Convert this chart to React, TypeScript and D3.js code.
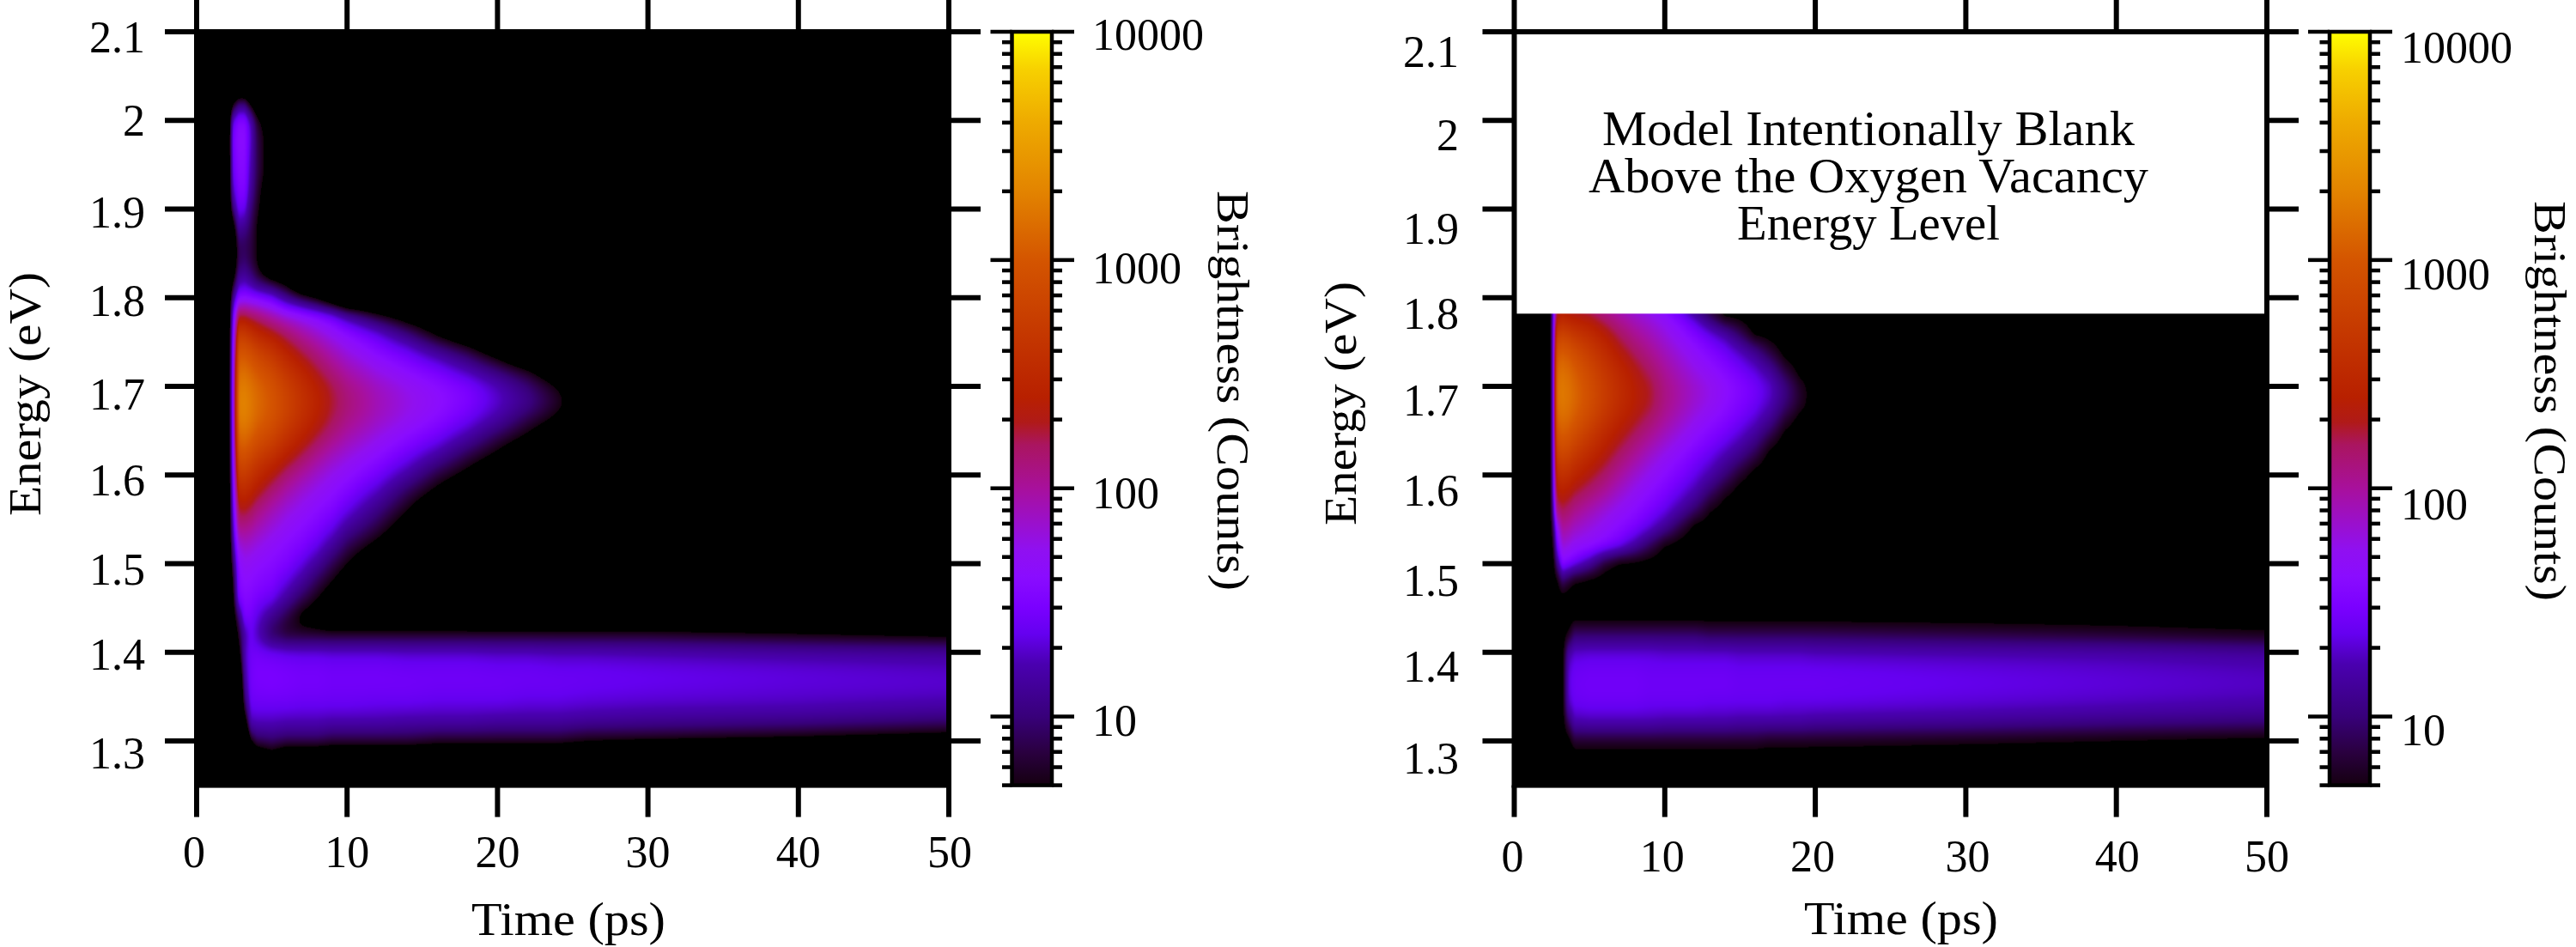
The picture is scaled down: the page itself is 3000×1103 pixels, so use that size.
import { useEffect, useRef } from 'react'
import * as d3 from 'd3'

const timeTicks = [0, 10, 20, 30, 40, 50]
const energyTicks = [2.1, 2, 1.9, 1.8, 1.7, 1.6, 1.5, 1.4, 1.3]
const countTicks = [10000, 1000, 100, 10]
const countMinorTicks = [
  5, 6, 7, 8, 9, 20, 30, 40, 50, 60, 70, 80, 90, 200, 300, 400, 500, 600, 700, 800, 900,
  2000, 3000, 4000, 5000, 6000, 7000, 8000, 9000,
]

// colour bar
const colorCounts = [5, 7, 10, 17, 23, 30, 41, 54, 100, 155, 195, 250, 457, 1000, 2040, 4000, 6800, 10000]
const colorValues = [
  '#150010', '#2a0040', '#38007a', '#4a00b0', '#6500f0', '#7a00ff', '#8a0cff', '#9010f0', '#a8109c',
  '#aa1560', '#b01a18', '#b82000', '#c43600', '#d45500', '#e38500', '#eeaa00', '#f7d000', '#ffff00',
]

// measured data: counts per energy row and time column, rows stop at their last cell above the scale
const measuredTimes = [2, 2.4, 2.8, 3.2, 3.6, 4, 5, 6, 7, 8, 9, 10, 12, 14, 16, 18, 20, 22, 24, 26, 30, 40, 50]
const measuredEnergies = [
  2.06, 2.04, 2.02, 2, 1.98, 1.96, 1.94, 1.92, 1.9, 1.88, 1.86, 1.84, 1.82, 1.8, 1.78, 1.76, 1.74, 1.72, 1.7, 1.68,
  1.66, 1.64, 1.62, 1.6, 1.58, 1.56, 1.54, 1.52, 1.5, 1.48, 1.46, 1.44, 1.42, 1.4, 1.38, 1.36, 1.34, 1.32, 1.3, 1.28, 1.26,
]
const measuredCounts = [
  [],
  [],
  [1, 4, 9, 9, 4, 2],
  [1, 22, 36, 36, 18, 7, 2],
  [1, 28, 40, 40, 20, 8, 3],
  [1, 26, 38, 38, 18, 8, 3],
  [1, 24, 36, 36, 16, 8, 3],
  [1, 18, 32, 32, 14, 7, 2],
  [1, 10, 26, 24, 10, 6, 2],
  [1, 3, 14, 12, 8, 5],
  [1, 2, 8, 8, 7, 5],
  [1, 2, 8, 9, 7, 5],
  [1, 4, 14, 16, 12, 8, 5, 3],
  [1, 12, 35, 38, 36, 34, 25, 12, 7, 4, 2],
  [1, 22, 180, 180, 150, 130, 85, 60, 46, 36, 26, 15, 6, 3, 2],
  [1, 28, 500, 480, 380, 300, 210, 140, 95, 68, 50, 38, 22, 10, 4, 2],
  [1, 32, 900, 900, 780, 620, 420, 250, 165, 115, 80, 58, 36, 24, 13, 7, 3],
  [1, 36, 1300, 1350, 1150, 950, 660, 410, 265, 175, 120, 86, 54, 38, 27, 16, 9, 5, 2],
  [1, 40, 1700, 1800, 1550, 1300, 900, 570, 370, 245, 170, 120, 76, 54, 41, 30, 18, 10, 5, 2],
  [1, 40, 1900, 2000, 1700, 1400, 980, 640, 410, 275, 185, 135, 85, 60, 45, 32, 20, 12, 6, 3],
  [1, 38, 1700, 1800, 1550, 1250, 880, 550, 355, 235, 160, 115, 74, 52, 37, 24, 14, 7, 4, 2],
  [1, 35, 1200, 1300, 1100, 880, 620, 385, 250, 165, 115, 85, 55, 37, 25, 14, 7, 4, 2],
  [1, 32, 800, 850, 700, 560, 380, 235, 155, 105, 76, 60, 40, 25, 14, 7, 4, 2],
  [1, 28, 500, 520, 430, 340, 215, 135, 95, 70, 54, 44, 28, 15, 7, 4, 2],
  [1, 24, 300, 320, 270, 210, 130, 88, 65, 52, 42, 33, 18, 8, 4, 2],
  [1, 20, 180, 190, 160, 125, 85, 62, 50, 40, 33, 23, 11, 5, 2],
  [1, 16, 110, 110, 100, 85, 62, 48, 39, 32, 23, 14, 7, 3],
  [1, 12, 60, 70, 65, 58, 46, 38, 32, 23, 14, 8, 4, 2],
  [1, 8, 40, 50, 48, 44, 38, 32, 22, 14, 8, 5, 2],
  [1, 5, 35, 42, 40, 37, 32, 22, 14, 8, 5, 3],
  [1, 4, 30, 36, 34, 30, 24, 14, 8, 5, 3, 2],
  [1, 3, 10, 30, 28, 22, 12, 7, 4, 3, 2, 2, 2, 2, 2, 2, 2, 2, 2, 2, 2, 2, 2],
  [1, 2, 6, 15, 24, 18, 8, 6, 6, 6, 6, 6, 6, 6, 6, 6, 6, 6, 6, 6, 6, 5, 4],
  [1, 1, 4, 18, 26, 27, 25, 23, 22, 22, 21, 21, 21, 20, 20, 20, 19, 19, 18, 18, 17, 15, 14],
  [1, 1, 2, 16, 27, 30, 30, 29, 28, 28, 27, 27, 27, 26, 26, 26, 25, 25, 24, 24, 23, 21, 19],
  [1, 1, 1, 13, 27, 29, 30, 29, 28, 28, 27, 27, 27, 27, 26, 26, 26, 25, 25, 24, 23, 21, 20],
  [1, 1, 1, 8, 24, 25, 25, 25, 24, 24, 24, 24, 23, 23, 22, 22, 22, 21, 21, 20, 19, 18, 16],
  [1, 1, 1, 3, 17, 18, 18, 17, 17, 17, 16, 16, 16, 15, 15, 15, 14, 14, 14, 13, 12, 11, 9],
  [1, 1, 1, 1, 5, 8, 9, 8, 8, 8, 7, 7, 7, 7, 6, 6, 6, 6, 6, 5, 5, 4, 3],
  [1, 1, 1, 1, 1, 2, 3, 2, 2, 2, 2, 2, 2, 2, 2, 2, 2, 2, 2, 2, 1, 1, 1],
  [],
]

// model panel, same idea, 4 is just under the scale so the edges stay crisp
const modelTimes = [2.4, 2.6, 2.8, 3.2, 3.6, 4, 5, 6, 7, 8, 9, 10, 11, 12, 13, 14, 15, 16, 17, 18, 19, 20, 30, 40, 50]
const modelEnergies = [
  1.8, 1.78, 1.76, 1.74, 1.72, 1.7, 1.68, 1.66, 1.64, 1.62, 1.6, 1.58, 1.56, 1.54, 1.52, 1.5, 1.48, 1.46, 1.44, 1.42,
  1.4, 1.38, 1.36, 1.34, 1.32, 1.3, 1.28,
]
const modelCounts = [
  [4, 22, 120, 150, 130, 120, 100, 75, 55, 45, 36, 22, 12, 5],
  [4, 26, 200, 260, 230, 210, 180, 130, 95, 72, 58, 45, 30, 17, 8],
  [4, 30, 500, 600, 540, 450, 340, 230, 150, 105, 80, 60, 44, 32, 22, 15, 8],
  [4, 30, 900, 1050, 950, 780, 520, 340, 215, 150, 108, 78, 58, 44, 34, 26, 18, 12, 6.5],
  [4, 30, 1250, 1450, 1300, 1080, 700, 450, 300, 205, 145, 100, 74, 56, 44, 35, 27, 20, 13, 6.5],
  [4, 30, 1500, 1700, 1550, 1280, 830, 530, 350, 245, 185, 120, 90, 70, 56, 44, 35, 28, 20, 11, 6],
  [4, 30, 1450, 1700, 1550, 1300, 840, 530, 350, 245, 185, 120, 90, 68, 54, 42, 33, 26, 18, 10, 6],
  [4, 30, 1150, 1350, 1250, 1030, 660, 410, 270, 195, 140, 98, 72, 54, 42, 34, 26, 19, 12, 6],
  [4, 30, 800, 1000, 900, 720, 460, 290, 200, 140, 100, 72, 54, 41, 32, 25, 18, 12, 6.5],
  [4, 30, 520, 640, 580, 460, 310, 210, 140, 100, 70, 52, 40, 30, 23, 16, 11, 7],
  [4, 26, 330, 400, 360, 290, 205, 145, 100, 70, 52, 40, 31, 23, 16, 10, 6],
  [4, 22, 210, 250, 220, 180, 135, 100, 70, 52, 40, 31, 23, 16, 9, 5.5],
  [4, 15, 125, 160, 140, 115, 85, 64, 50, 40, 31, 23, 15, 9, 5],
  [4, 8, 40, 100, 90, 75, 60, 48, 38, 30, 21, 13, 7],
  [4, 5, 25, 65, 58, 50, 44, 35, 26, 15, 8, 4.5],
  [4, 4, 10, 38, 32, 26, 14, 6],
  [4, 4, 4, 8, 6, 4.5],
  [],
  [],
  [4, 4, 4, 4, 5, 9, 9, 9, 9, 9, 9, 9, 9, 9, 8, 8, 8, 8, 8, 8, 8, 8, 7, 6, 5],
  [4, 4, 4, 4, 15, 20, 21, 21, 21, 21, 21, 20, 20, 20, 20, 20, 19, 19, 19, 19, 19, 18, 17, 16, 14],
  [4, 4, 4, 4, 20, 25, 26, 26, 26, 26, 25, 25, 25, 25, 25, 25, 24, 24, 24, 24, 24, 24, 22, 20, 18],
  [4, 4, 4, 4, 21, 26, 27, 27, 27, 27, 26, 26, 26, 26, 26, 26, 25, 25, 25, 25, 25, 25, 23, 21, 19],
  [4, 4, 4, 4, 18, 24, 25, 25, 25, 25, 24, 24, 24, 24, 23, 23, 23, 23, 23, 22, 22, 22, 20, 18, 16],
  [4, 4, 4, 4, 8, 16, 17, 17, 17, 17, 17, 16, 16, 16, 16, 16, 15, 15, 15, 15, 15, 14, 13, 11, 10],
  [4, 4, 4, 4, 4, 6, 6, 6, 6, 6, 6, 6, 6, 6, 6, 6, 6, 6, 5.5, 5.5, 5.5, 5.5, 5, 4.5, 4],
  [],
]

const modelBlankAbove = 1.782
const blankNote = ['Model Intentionally Blank', 'Above the Oxygen Vacancy', 'Energy Level']

const FONT = '"Liberation Serif", serif'
const WIDTH = 3000
const HEIGHT = 1103
const TOP = 37
const BOTTOM = 914.6
const TICK = 37
const LABEL_SIZE = 52

const yEnergy = d3.scaleLinear().domain([1.25, 2.1]).range([BOTTOM, TOP])
const yCounts = d3.scaleLog().domain([5, 10000]).range([BOTTOM, TOP])
const colorScale = d3
  .scaleLog<string>()
  .domain(colorCounts)
  .range(colorValues)
  .interpolate(d3.interpolateRgb)
  .clamp(true)

// heat map goes into a canvas, the cells get blended in log counts like imshow does
function heatmapUrl(
  times: number[],
  energies: number[],
  counts: number[][],
  belowScale: number,
  x: d3.ScaleLinear<number, number>,
  w: number,
  h: number,
) {
  const canvas = document.createElement('canvas')
  canvas.width = w
  canvas.height = h
  const ctx = canvas.getContext('2d')!
  const img = ctx.createImageData(w, h)
  const [x0] = x.range()
  const negEnergies = energies.map((e) => -e)
  const logCell = (r: number, c: number) => Math.log10(counts[r][c] ?? belowScale)
  const field = new Float64Array(w * h)

  for (let py = 0; py < h; py++) {
    const e = yEnergy.invert(TOP + py + 0.5)
    const r1 = Math.min(Math.max(d3.bisectRight(negEnergies, -e), 1), energies.length - 1)
    const r0 = r1 - 1
    const fr = Math.min(Math.max((energies[r0] - e) / (energies[r0] - energies[r1]), 0), 1)
    for (let px = 0; px < w; px++) {
      const t = x.invert(x0 + px + 0.5)
      const c1 = Math.min(Math.max(d3.bisectRight(times, t), 1), times.length - 1)
      const c0 = c1 - 1
      const fc = Math.min(Math.max((t - times[c0]) / (times[c1] - times[c0]), 0), 1)
      const top = logCell(r0, c0) * (1 - fc) + logCell(r0, c1) * fc
      const bot = logCell(r1, c0) * (1 - fc) + logCell(r1, c1) * fc
      field[py * w + px] = top * (1 - fr) + bot * fr
    }
  }

  // soften the grid steps, mostly along energy so the steep edge in time survives
  d3.blur2({ data: field, width: w, height: h }, 1, 7)

  for (let i = 0; i < field.length; i++) {
    const v = Math.pow(10, field[i])
    const col = v < 5 ? { r: 0, g: 0, b: 0 } : d3.rgb(colorScale(v))
    img.data[i * 4] = col.r
    img.data[i * 4 + 1] = col.g
    img.data[i * 4 + 2] = col.b
    img.data[i * 4 + 3] = 255
  }
  ctx.putImageData(img, 0, 0)
  return canvas.toDataURL('image/png')
}

function styleText(sel: d3.Selection<any, any, any, any>, size = LABEL_SIZE) {
  return sel.attr('font-family', FONT).attr('font-size', size).attr('fill', '#000').attr('stroke', 'none')
}

interface Panel {
  left: number
  right: number
  times: number[]
  energies: number[]
  counts: number[][]
  belowScale: number
  energyLabelEnd: number
  energyDy: number[]
  timeLabelY: number
  timeNudge: number[]
  yTitle: { x: number; y: number }
  xTitle: { x: number; y: number }
  bar: { left: number; right: number }
  countLabelX: number
  countDy: number[]
  barTitle: { x: number; y: number }
}

const measuredPanel: Panel = {
  left: 229,
  right: 1105,
  times: measuredTimes,
  energies: measuredEnergies,
  counts: measuredCounts,
  belowScale: 1,
  energyLabelEnd: 169,
  energyDy: [24, 18, 22, 21, 27, 24, 25, 20, 32],
  timeLabelY: 1010,
  timeNudge: [-3, 0, 0, 0, 0, 1],
  yTitle: { x: 47, y: 459 },
  xTitle: { x: 662, y: 1089 },
  bar: { left: 1178.5, right: 1225 },
  countLabelX: 1272,
  countDy: [21, 27, 23, 22],
  barTitle: { x: 1418, y: 455 },
}

const modelPanel: Panel = {
  left: 1763.5,
  right: 2640,
  times: modelTimes,
  energies: modelEnergies,
  counts: modelCounts,
  belowScale: 4,
  energyLabelEnd: 1699,
  energyDy: [41, 35, 41, 36, 34, 36, 38, 34, 38],
  timeLabelY: 1015,
  timeNudge: [-2, -3, -3, 2, 1, 0],
  yTitle: { x: 1579, y: 470 },
  xTitle: { x: 2214, y: 1088 },
  bar: { left: 2713, right: 2760 },
  countLabelX: 2796,
  countDy: [36, 34, 36, 33],
  barTitle: { x: 2952, y: 467 },
}

function drawPanel(svg: d3.Selection<SVGSVGElement, unknown, null, undefined>, p: Panel, id: string, blank: boolean) {
  const x = d3.scaleLinear().domain([0, 50]).range([p.left, p.right])
  const w = Math.round(p.right - p.left)
  const h = Math.round(BOTTOM - TOP)

  svg
    .append('image')
    .attr('x', p.left)
    .attr('y', TOP)
    .attr('width', p.right - p.left)
    .attr('height', BOTTOM - TOP)
    .attr('preserveAspectRatio', 'none')
    .attr('href', heatmapUrl(p.times, p.energies, p.counts, p.belowScale, x, w, h))

  if (blank) {
    svg
      .append('rect')
      .attr('x', p.left)
      .attr('y', TOP)
      .attr('width', p.right - p.left)
      .attr('height', yEnergy(modelBlankAbove) - TOP)
      .attr('fill', '#fff')
    styleText(
      svg
        .selectAll('.note')
        .data(blankNote)
        .enter()
        .append('text')
        .attr('class', 'note')
        .attr('x', 2176)
        .attr('y', (_, i) => 169 + i * 55)
        .attr('text-anchor', 'middle')
        .attr('textLength', (_, i) => [620, 652, 306][i])
        .attr('lengthAdjust', 'spacingAndGlyphs')
        .text((d) => d),
      56,
    )
  }

  // frame
  svg
    .append('rect')
    .attr('x', p.left)
    .attr('y', TOP)
    .attr('width', p.right - p.left)
    .attr('height', BOTTOM - TOP)
    .attr('fill', 'none')
    .attr('stroke', '#000')
    .attr('stroke-width', 6)

  const axes: [d3.Axis<any>, number, number][] = [
    [d3.axisBottom(x).tickValues(timeTicks), 0, BOTTOM],
    [d3.axisTop(x).tickValues(timeTicks), 0, TOP],
    [d3.axisLeft(yEnergy).tickValues(energyTicks), p.left, 0],
    [d3.axisRight(yEnergy).tickValues(energyTicks), p.right, 0],
  ]
  const groups = axes.map(([axis, tx, ty]) => {
    const g = svg.append('g').attr('transform', `translate(${tx},${ty})`)
    g.call(axis.offset(0).tickSizeInner(TICK).tickSizeOuter(0))
    g.select('.domain').remove()
    g.selectAll('line').attr('stroke', '#000').attr('stroke-width', 6)
    return g
  })
  groups[1].selectAll('text').remove()
  groups[3].selectAll('text').remove()

  styleText(groups[0].selectAll('text'))
    .attr('dy', 0)
    .attr('y', p.timeLabelY - BOTTOM)
    .attr('x', (_, i) => p.timeNudge[i])
    .text((d: any) => String(d))
  styleText(groups[2].selectAll('text'))
    .attr('dy', 0)
    .attr('x', p.energyLabelEnd - p.left)
    .attr('y', (_, i) => p.energyDy[i])
    .attr('text-anchor', 'end')
    .text((d: any) => String(d))

  styleText(svg.append('text'), 52)
    .attr('transform', `translate(${p.yTitle.x},${p.yTitle.y}) rotate(-90)`)
    .attr('text-anchor', 'middle')
    .attr('textLength', 284)
    .attr('lengthAdjust', 'spacingAndGlyphs')
    .text('Energy (eV)')
  styleText(svg.append('text'), 54)
    .attr('x', p.xTitle.x)
    .attr('y', p.xTitle.y)
    .attr('text-anchor', 'middle')
    .attr('textLength', 226)
    .attr('lengthAdjust', 'spacingAndGlyphs')
    .text('Time (ps)')

  // colour bar
  const gradId = `bar-${id}`
  const grad = svg
    .append('defs')
    .append('linearGradient')
    .attr('id', gradId)
    .attr('gradientUnits', 'userSpaceOnUse')
    .attr('x1', 0)
    .attr('x2', 0)
    .attr('y1', BOTTOM)
    .attr('y2', TOP)
  grad
    .selectAll('stop')
    .data(colorCounts)
    .enter()
    .append('stop')
    .attr('offset', (d) => (BOTTOM - yCounts(d)) / (BOTTOM - TOP))
    .attr('stop-color', (d) => colorScale(d))

  svg
    .append('rect')
    .attr('x', p.bar.left)
    .attr('y', TOP)
    .attr('width', p.bar.right - p.bar.left)
    .attr('height', BOTTOM - TOP)
    .attr('fill', `url(#${gradId})`)
    .attr('stroke', '#000')
    .attr('stroke-width', 4.5)

  const barAxes: [d3.Axis<any>, number, number[], number][] = [
    [d3.axisLeft(yCounts), p.bar.left, countTicks, 25],
    [d3.axisLeft(yCounts), p.bar.left, countMinorTicks, 11.5],
    [d3.axisRight(yCounts), p.bar.right, countTicks, 26],
    [d3.axisRight(yCounts), p.bar.right, countMinorTicks, 12],
  ]
  barAxes.forEach(([axis, tx, values, size]) => {
    const g = svg.append('g').attr('transform', `translate(${tx},0)`)
    g.call(axis.offset(0).tickValues(values).tickSizeInner(size).tickSizeOuter(0).tickFormat(() => ''))
    g.select('.domain').remove()
    g.selectAll('line').attr('stroke', '#000').attr('stroke-width', 4.5)
    g.selectAll('text').remove()
  })

  styleText(
    svg
      .selectAll(`.count-${id}`)
      .data(countTicks)
      .enter()
      .append('text')
      .attr('class', `count-${id}`)
      .attr('x', p.countLabelX)
      .attr('y', (d, i) => yCounts(d) + p.countDy[i])
      .text((d) => String(d)),
  )
  styleText(svg.append('text'), 52)
    .attr('transform', `translate(${p.barTitle.x},${p.barTitle.y}) rotate(90)`)
    .attr('text-anchor', 'middle')
    .attr('textLength', 466)
    .attr('lengthAdjust', 'spacingAndGlyphs')
    .text('Brightness (Counts)')
}

export default function App() {
  const svgRef = useRef<SVGSVGElement>(null)

  useEffect(() => {
    if (!svgRef.current) return
    const svg = d3.select(svgRef.current)
    svg.selectAll('*').remove()
    drawPanel(svg, measuredPanel, 'measured', false)
    drawPanel(svg, modelPanel, 'model', true)
  }, [])

  return (
    <svg
      ref={svgRef}
      width={WIDTH}
      height={HEIGHT}
      viewBox={`0 0 ${WIDTH} ${HEIGHT}`}
      style={{ position: 'absolute', left: 0, top: 0, background: '#fff' }}
    />
  )
}
